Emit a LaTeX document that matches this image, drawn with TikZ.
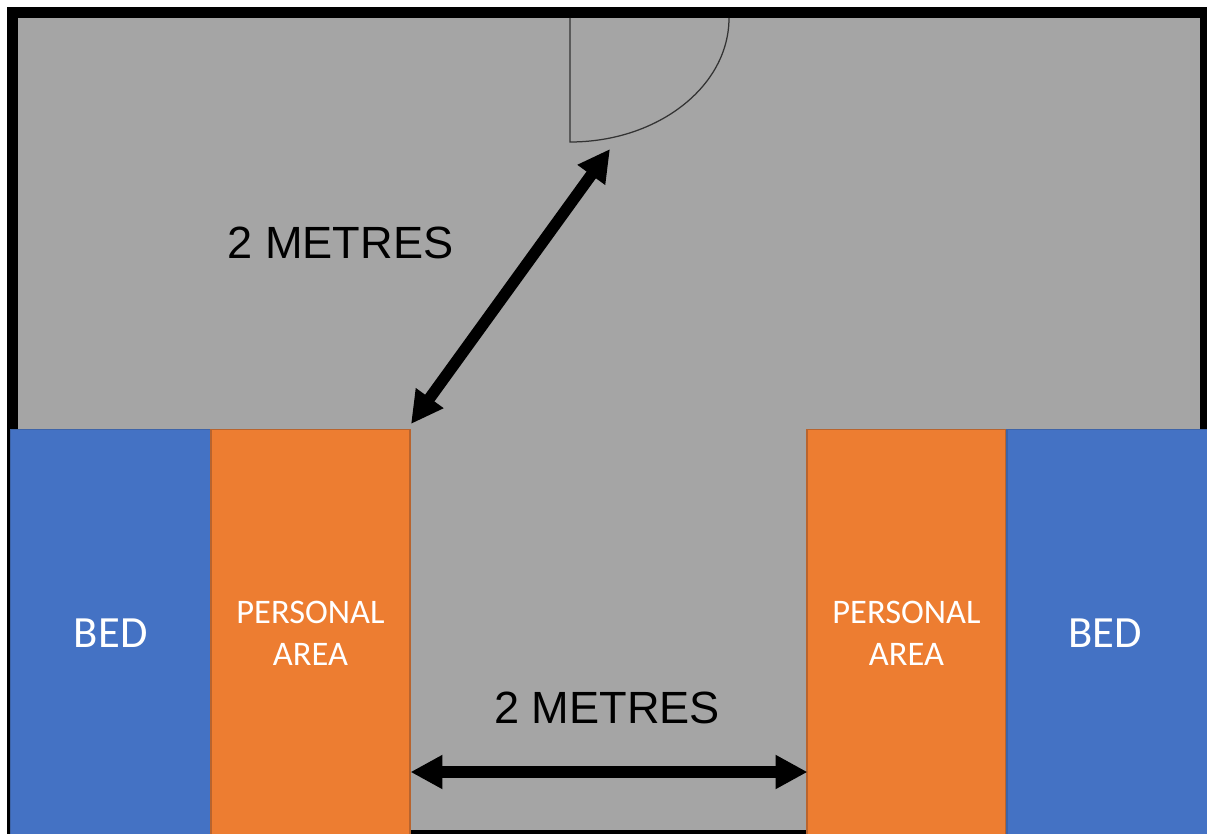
\documentclass[tikz,border=0pt]{standalone}
\usepackage{fontspec}
\setmainfont{Carlito}
\newfontfamily\labelfont{Liberation Sans}
\usetikzlibrary{positioning,arrows.meta}
\definecolor{roomgrey}{HTML}{A5A5A5}
\definecolor{bedblue}{HTML}{4472C4}
\definecolor{bededge}{HTML}{3E64A8}
\definecolor{areaorange}{HTML}{ED7D31}
\definecolor{areaedge}{HTML}{B8642E}
\tikzset{
  x=0.02cm, y=-0.02cm,
  room/.style={draw=black, fill=roomgrey, line width=0.22cm, anchor=north west, inner sep=0pt, minimum width=23.86cm, minimum height=16.45cm},
  bed/.style={draw=bededge, fill=bedblue, line width=0.03cm, anchor=north west, inner sep=0pt, minimum width=4cm, minimum height=8.14cm, text=white, font=\fontsize{25.4}{28}\selectfont},
  area/.style={draw=areaedge, fill=areaorange, line width=0.03cm, anchor=north west, inner sep=0pt, minimum width=3.99cm, minimum height=8.14cm, text=white, align=center, font=\fontsize{19.6}{24}\selectfont},
  size/.style={font=\labelfont\fontsize{25.7}{30}\selectfont, text=black},
  span/.style={line width=0.23cm, {Triangle[length=0.64cm,width=0.64cm]}-{Triangle[length=0.64cm,width=0.64cm]}}
}
\begin{document}
\begin{tikzpicture}
  \useasboundingbox (0,0) rectangle (1207,834);
  \clip (0,0) rectangle (1207,834);
  \node[room] (room) at (7,7.5) {};
  % door
  \draw[draw=black!80, line width=0.025cm] (570,18) -- (570,142) arc[start angle=90, end angle=0, x radius=159, y radius=124];
  \node[bed] (bedleft) at (10,429) {BED};
  \node[area] (arealeft) at (210,429) {PERSONAL\\AREA};
  \node[area] (arearight) at (806,429) {PERSONAL\\AREA};
  \node[bed, minimum width=4.02cm] (bedright) at (1006,429) {BED\kern2.3pt};
  \coordinate (doorfront) at (610,149);
  \coordinate (cornerleft) at (411,424);
  \coordinate (gapleft) at (410.5,772);
  \coordinate (gapright) at (807.5,772);
  \draw[span] (cornerleft) -- (doorfront);
  \draw[span] (gapleft) -- (gapright);
  \node[size] (sizedoor) at (340.5,243) {2 METRES};
  \node[size] (sizegap) at (607,708) {2 METRES};
\end{tikzpicture}
\end{document}
